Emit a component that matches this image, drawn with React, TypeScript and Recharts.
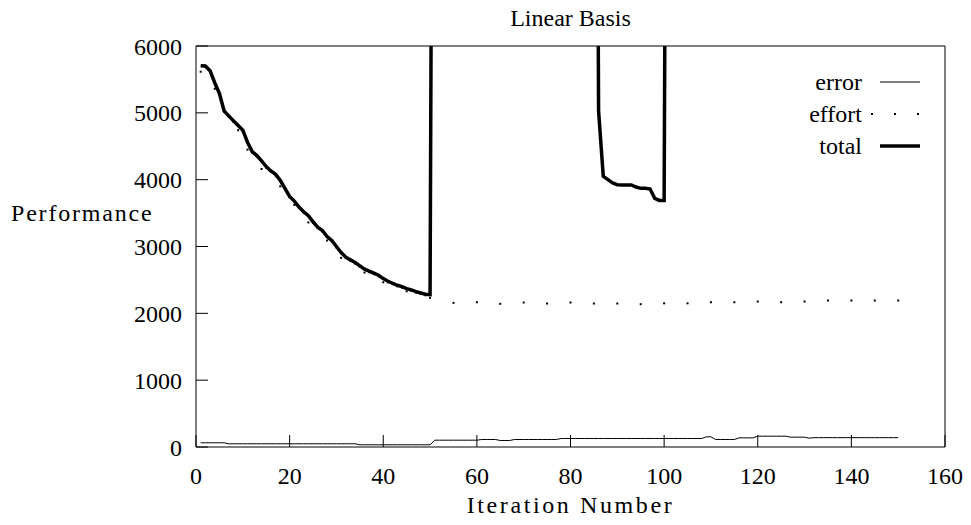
import React from 'react'
import { LineChart, Line, XAxis, YAxis, Legend } from 'recharts'

const FONT = '"Liberation Serif", "Times New Roman", serif'

// axis ticks
const xTicks = [0, 20, 40, 60, 80, 100, 120, 140, 160]
const yTicks = [0, 1000, 2000, 3000, 4000, 5000, 6000]

// error: one value per iteration 1..150
const errorValues = [
  63, 63, 63, 63, 63, 63, 48, 48, 48, 48,
  48, 48, 48, 48, 48, 48, 48, 48, 48, 48,
  48, 48, 48, 48, 48, 48, 48, 48, 48, 48,
  48, 48, 48, 48, 33, 33, 33, 33, 33, 33,
  33, 33, 33, 33, 33, 33, 33, 33, 33, 33,
  102, 102, 102, 102, 102, 102, 102, 102, 102, 102,
  112, 112, 112, 112, 97, 97, 97, 112, 112, 112,
  112, 112, 112, 112, 112, 112, 112, 127, 127, 127,
  127, 127, 127, 127, 127, 127, 127, 127, 127, 127,
  127, 127, 127, 127, 127, 127, 127, 127, 127, 127,
  127, 127, 127, 127, 127, 127, 127, 127, 152, 152,
  112, 112, 112, 112, 112, 137, 137, 137, 137, 162,
  162, 162, 162, 162, 162, 162, 147, 147, 147, 147,
  132, 140, 140, 140, 140, 140, 140, 140, 140, 140,
  140, 140, 140, 140, 140, 140, 140, 140, 140, 140,
]
const errorIter = errorValues.map((_, i) => i + 1)

// effort: every iteration up to 50, then every 5th
const effortIter = [
  1, 2, 3, 4, 5, 6, 7, 8, 9, 10,
  11, 12, 13, 14, 15, 16, 17, 18, 19, 20,
  21, 22, 23, 24, 25, 26, 27, 28, 29, 30,
  31, 32, 33, 34, 35, 36, 37, 38, 39, 40,
  41, 42, 43, 44, 45, 46, 47, 48, 49, 50,
  55, 60, 65, 70, 75, 80, 85, 90, 95, 100,
  105, 110, 115, 120, 125, 130, 135, 140, 145, 150,
]
const effortValues = [
  5615, 5685, 5615, 5360, 5275, 5015, 4940, 4865, 4740, 4725,
  4450, 4405, 4345, 4160, 4180, 4115, 4065, 3900, 3855, 3735,
  3620, 3575, 3505, 3360, 3355, 3275, 3225, 3090, 3075, 2985,
  2830, 2825, 2785, 2745, 2695, 2610, 2615, 2585, 2555, 2465,
  2465, 2435, 2405, 2385, 2330, 2335, 2310, 2290, 2270, 2232,
  2157, 2166, 2142, 2162, 2147, 2162, 2147, 2147, 2137, 2150,
  2150, 2166, 2166, 2177, 2166, 2177, 2192, 2192, 2192, 2192,
]

// total: off the scale (above 6000) at 51..85 and after 100
const totalIter = [
  1, 2, 3, 4, 5, 6, 7, 8, 9, 10,
  11, 12, 13, 14, 15, 16, 17, 18, 19, 20,
  21, 22, 23, 24, 25, 26, 27, 28, 29, 30,
  31, 32, 33, 34, 35, 36, 37, 38, 39, 40,
  41, 42, 43, 44, 45, 46, 47, 48, 49, 50,
  51, 52, 85, 86, 87, 88, 89, 90, 91, 92,
  93, 94, 95, 96, 97, 98, 99, 100, 101,
]
const totalValues = [
  5705, 5700, 5630, 5450, 5290, 5030, 4955, 4880, 4810, 4740,
  4560, 4420, 4360, 4280, 4195, 4130, 4080, 3990, 3870, 3750,
  3680, 3590, 3520, 3460, 3370, 3290, 3240, 3150, 3090, 3000,
  2910, 2840, 2800, 2760, 2710, 2660, 2630, 2600, 2570, 2520,
  2480, 2450, 2420, 2400, 2370, 2350, 2325, 2305, 2285, 2280,
  20000, null, 20000, 5030, 4050, 4000, 3950, 3925, 3920, 3920,
  3920, 3890, 3870, 3870, 3860, 3720, 3690, 3690, 20000,
]

const toRows = (iters: number[], vals: (number | null)[]) =>
  iters.map((iter, i) => ({ iter, value: vals[i] }))

const errorData = toRows(errorIter, errorValues)
const effortData = toRows(effortIter, effortValues)
const totalData = toRows(totalIter, totalValues)

const tickStyle = { fill: '#000', fontSize: 24, fontFamily: FONT }

// bottom tick labels, baseline fixed just under the frame
const XTick = (props: any) => {
  const { x, payload } = props
  return (
    <text x={x} y={484} textAnchor="middle" fill="#000" fontSize={24} fontFamily={FONT}>
      {payload.value}
    </text>
  )
}

const legendRows = [
  { name: 'error', kind: 'thin' },
  { name: 'effort', kind: 'dots' },
  { name: 'total', kind: 'thick' },
]

const LegendBox = () => (
  <div style={{ position: 'relative', width: 170, height: 96, fontFamily: FONT, fontSize: 24, color: '#000' }}>
    {legendRows.map((r, i) => (
      <div
        key={r.name}
        style={{ position: 'absolute', top: i * 32, right: 0, height: 32, display: 'flex', alignItems: 'center' }}
      >
        <span style={{ lineHeight: '32px' }}>{r.name}</span>
        <svg width={58} height={32} style={{ display: 'block' }}>
          {r.kind === 'thin' && <line x1={18} x2={58} y1={16} y2={16} stroke="#000" strokeWidth={1} />}
          {r.kind === 'thick' && <line x1={18} x2={58} y1={16} y2={16} stroke="#000" strokeWidth={3.5} />}
          {r.kind === 'dots' &&
            [10, 33, 56].map((x) => <rect key={x} x={x - 1} y={15} width={2} height={2} fill="#000" />)}
        </svg>
      </div>
    ))}
  </div>
)

const SquareDot = (props: any) => {
  const { cx, cy, index } = props
  if (cx == null || cy == null) return <g key={`d-${index}`} />
  return <rect key={`d-${index}`} x={cx - 1} y={cy - 1} width={2} height={2} fill="#000" />
}

export default function App() {
  return (
    <div style={{ position: 'absolute', left: 0, top: 0, width: 971, height: 525, background: '#fff', fontFamily: FONT }}>
      <div style={{ position: 'absolute', left: 196, width: 749, top: 4, textAlign: 'center', fontSize: 24, lineHeight: '28px' }}>
        Linear Basis
      </div>
      <div style={{ position: 'absolute', left: 11, top: 199, fontSize: 24, lineHeight: '28px', letterSpacing: 1.8 }}>
        Performance
      </div>
      <div
        style={{ position: 'absolute', left: 196, width: 749, top: 491, textAlign: 'center', fontSize: 24, lineHeight: '28px', letterSpacing: 2.6 }}
      >
        Iteration Number
      </div>
      <LineChart width={971} height={525} margin={{ top: 16, right: 6, bottom: 28, left: 136 }}>
        <XAxis
          xAxisId="bottom"
          dataKey="iter"
          type="number"
          domain={[0, 160]}
          ticks={xTicks}
          interval={0}
          height={50}
          tickSize={-12}
          stroke="#000"
          tick={XTick}
          allowDataOverflow
        />
        <XAxis
          xAxisId="top"
          orientation="top"
          dataKey="iter"
          type="number"
          domain={[0, 160]}
          ticks={xTicks}
          interval={0}
          height={30}
          tickSize={-12}
          tick={false}
          stroke="#000"
          allowDataOverflow
        />
        <YAxis
          yAxisId="left"
          type="number"
          domain={[0, 6000]}
          ticks={yTicks}
          interval={0}
          width={60}
          tickSize={-12}
          tickMargin={26}
          stroke="#000"
          tick={tickStyle}
          allowDataOverflow
        />
        <YAxis
          yAxisId="right"
          orientation="right"
          type="number"
          domain={[0, 6000]}
          ticks={yTicks}
          interval={0}
          width={20}
          tickSize={-12}
          tick={false}
          stroke="#000"
          allowDataOverflow
        />
        <Legend
          layout="vertical"
          align="center"
          verticalAlign="middle"
          content={() => <LegendBox />}
          wrapperStyle={{ left: 750, top: 66, width: 170, height: 96 }}
        />
        <Line
          xAxisId="bottom"
          yAxisId="left"
          data={errorData}
          dataKey="value"
          name="error"
          stroke="#000"
          strokeWidth={1}
          dot={false}
          activeDot={false}
          type="linear"
          isAnimationActive={false}
        />
        <Line
          xAxisId="bottom"
          yAxisId="left"
          data={effortData}
          dataKey="value"
          name="effort"
          stroke="none"
          dot={SquareDot}
          activeDot={false}
          type="linear"
          isAnimationActive={false}
        />
        <Line
          xAxisId="bottom"
          yAxisId="left"
          data={totalData}
          dataKey="value"
          name="total"
          stroke="#000"
          strokeWidth={3.5}
          dot={false}
          activeDot={false}
          type="linear"
          isAnimationActive={false}
          connectNulls={false}
        />
      </LineChart>
    </div>
  )
}
